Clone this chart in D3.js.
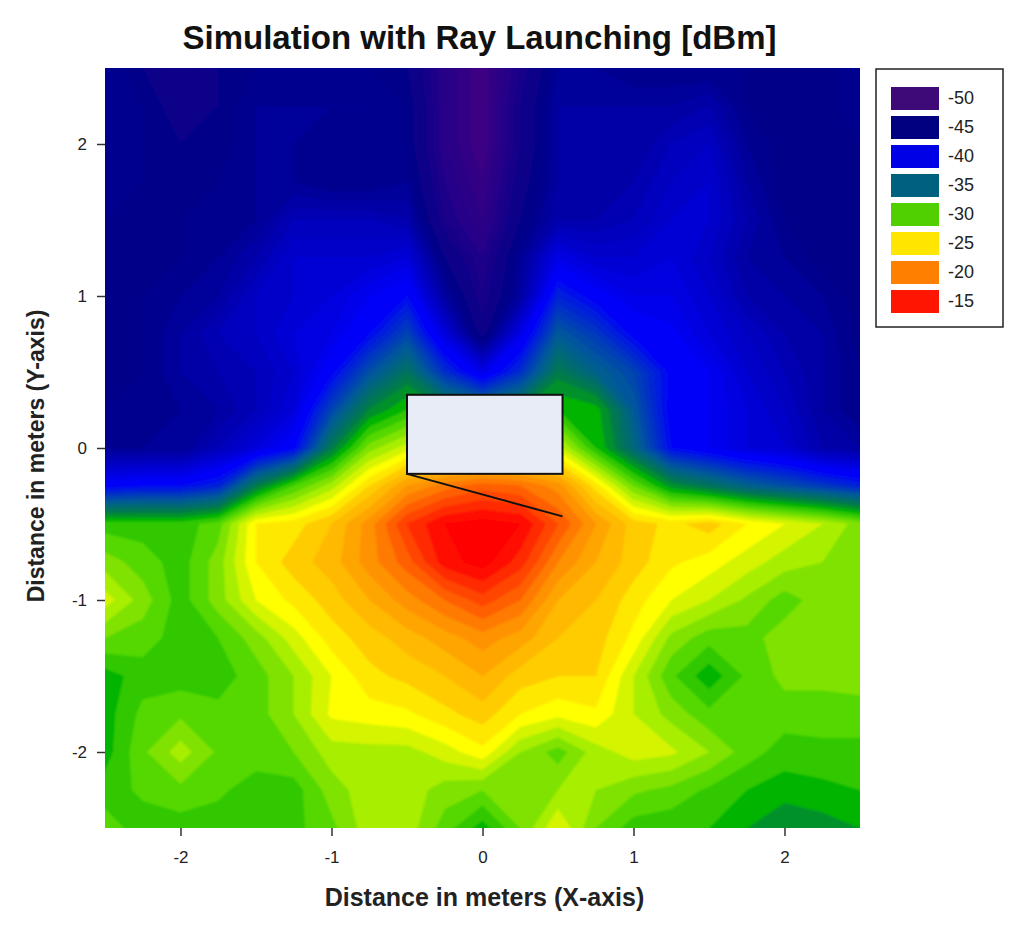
<!DOCTYPE html>
<html><head><meta charset="utf-8">
<script src="https://cdn.jsdelivr.net/npm/d3@7"></script>
<style>html,body{margin:0;padding:0;background:#fff}svg{display:block}text{font-family:"Liberation Sans",Arial,sans-serif}</style>
</head><body><div id="c"></div>
<script>
const titleText = "Simulation with Ray Launching [dBm]";
const xLabelText = "Distance in meters (X-axis)";
const yLabelText = "Distance in meters (Y-axis)";
const xColumns = [-2.5,-2.25,-2,-1.75,-1.5,-1.25,-1,-0.75,-0.5,-0.25,0,0.25,0.5,0.75,1,1.25,1.5,1.75,2,2.25,2.5];
const yRows = [2.5,2.25,2,1.75,1.5,1.25,1,0.75,0.5,0.25,0,-0.25,-0.5,-0.75,-1,-1.25,-1.5,-1.75,-2,-2.25,-2.5];
const fieldValues = [
 [-44.5,-45.5,-46.5,-45.5,-45,-45,-45,-45,-45.5,-48,-49.5,-47,-44.5,-44.5,-45,-45,-45,-45,-45.3,-45.3,-44.5],
 [-44.5,-45,-46,-45.5,-44.5,-44.5,-44.5,-44.5,-45,-48,-49.5,-46.5,-44,-44,-44,-44,-43.5,-45,-45.3,-45.3,-44.5],
 [-44.5,-45,-45.5,-45.3,-44.5,-44.5,-45,-45,-45,-48,-49.5,-46.5,-44,-44,-44,-43,-42.5,-44.5,-45.3,-45.3,-45],
 [-45,-45,-45.3,-45,-44.5,-44.5,-45,-45,-44.5,-47.5,-49,-46,-44,-44,-43.5,-42.5,-42,-44,-45.3,-45.3,-45],
 [-45,-45.3,-45,-45,-44.5,-43,-43,-43,-43.5,-47,-48.5,-45.5,-43.5,-43.5,-43,-42,-42,-43.5,-45,-45.3,-45],
 [-45.3,-45.3,-45,-44.5,-43.5,-42,-42,-42,-41.5,-45.5,-47.5,-44.5,-41,-42,-42,-41.5,-42.5,-44,-44.5,-45.3,-45],
 [-45.3,-45,-44.5,-44,-42.5,-42,-41.5,-40.5,-39.5,-44,-47,-44,-38.5,-40,-41,-41,-42,-43.5,-44,-44.5,-45.3],
 [-45.3,-45,-44,-43,-42.5,-41.5,-41,-39.5,-37,-41.5,-46,-41,-36,-37.5,-39.8,-40.3,-41.5,-42.5,-43.5,-44,-45.3],
 [-45.3,-45,-44,-43.5,-43,-42,-39.8,-36.5,-34,-38,-41,-38,-33.5,-35.5,-37,-39.8,-40.5,-42,-43,-44,-45],
 [-45,-45,-44.5,-44,-43,-41.5,-37,-33,-31,-33,-34,-33,-31,-31.5,-36,-40,-40.5,-41.5,-42.5,-44,-45],
 [-44.5,-44.5,-44.5,-43,-41.5,-39.8,-33.5,-28.5,-26.5,-26,-26,-26,-26.5,-31,-35,-39.5,-40.5,-41.5,-42,-43.5,-44],
 [-40,-39.5,-39.5,-38.5,-33.5,-30,-27.5,-24,-21,-19.5,-18.5,-19,-20.5,-24.5,-29,-32.5,-34,-35.5,-36.5,-37.5,-38.5],
 [-30.5,-30.5,-30.5,-29.5,-25,-24.5,-23,-20.5,-17,-15,-14.5,-15,-18,-21,-23.5,-24.3,-23.5,-25,-26,-27,-28.5],
 [-28.5,-29.5,-30.5,-28.5,-25,-23.5,-22.5,-20.5,-18.5,-15.5,-14.5,-16.5,-20,-22,-23.5,-24.8,-25.5,-26.5,-27.5,-28,-28.5],
 [-26.5,-28.5,-30.5,-28.5,-26,-24.7,-23.5,-22,-20.5,-19,-17.5,-19,-22,-23,-24.5,-26,-27,-28.2,-29.5,-28.5,-28.5],
 [-29,-29.5,-30.5,-30,-28.5,-26.5,-24.5,-23.5,-22.5,-21.5,-20.5,-21.5,-23,-23.5,-25.3,-28.3,-29.6,-29.4,-28.5,-28.5,-28.5],
 [-31.5,-30.5,-30.5,-30.5,-29.5,-28,-26,-24.3,-23.7,-23,-22,-23.5,-24,-24,-27,-29.8,-31.7,-29.8,-28.7,-28.7,-28.5],
 [-31.5,-29.7,-29.2,-29.7,-29.5,-28,-25.8,-25.5,-25.2,-24.3,-23.5,-25,-25.7,-25.2,-27,-28.4,-29.7,-29.4,-29.5,-29.5,-29.5],
 [-31.5,-29.2,-27.5,-29.2,-29.5,-29,-27.5,-27.4,-27.4,-26.5,-25.3,-28,-29.5,-27.5,-26.5,-26.8,-28,-29.5,-30.5,-30.3,-30.3],
 [-30.5,-29.8,-29.3,-29.8,-30.5,-30.5,-28.5,-27.4,-27.4,-28.5,-29,-28.3,-28,-28,-28.8,-29.3,-30.2,-31,-31.5,-31.3,-31],
 [-29.5,-30.5,-30.5,-30.5,-30.5,-30.3,-29.3,-27.4,-27.4,-29.5,-31.5,-29,-26,-29,-30.5,-30.7,-31,-32,-33,-32.5,-32]
];
const legendLevels = [-50,-45,-40,-35,-30,-25,-20,-15];
const legendColors = ["#3d0a78","#000080","#0000e6","#00607f","#50d000","#ffe600","#ff8000","#ff1500"];
const rampStops = [-52,-50,-47,-45,-40,-36,-33,-31.5,-30.5,-29.5,-28.5,-27.5,-26.5,-25.5,-24.5,-23.5,-20,-15,-13];
const rampColors = ["#4a0080","#450080","#1a008a","#000088","#0000ff","#005a98","#008040","#00b400","#30c800","#55d800","#80e200","#a8ee00","#d4f400","#ffff00","#ffe800","#ffcc00","#ff8800","#ff0000","#ff0000"];
const bodyRect = {x0:-0.5,x1:0.53,y0:0.35,y1:-0.17};
const wireX = [-0.5,0.53];
const wireY = [-0.17,-0.45];
const xTicks = [-2,-1,0,1,2];
const yTicks = [-2,-1,0,1,2];

const W=1024,H=928,L=105,R=860,T=68,B=828;
const svg=d3.select("#c").append("svg").attr("width",W).attr("height",H);
const x=d3.scaleLinear().domain([-2.5,2.5]).range([L,R]);
const y=d3.scaleLinear().domain([2.5,-2.5]).range([T,B]);
const color=d3.scaleLinear().domain(rampStops).range(rampColors);
const defs=svg.append("defs");
defs.append("clipPath").attr("id","pc").append("rect").attr("x",L).attr("y",T).attr("width",R-L).attr("height",B-T);
const fb=defs.append("filter").attr("id","soft").attr("x","-2%").attr("y","-2%").attr("width","104%").attr("height","104%");
fb.append("feGaussianBlur").attr("stdDeviation",0.8);

const nx=xColumns.length,ny=yRows.length;
const flat=fieldValues.flat();
const thresholds=d3.range(-52,-33,0.5).concat(d3.range(-33,-13,1));
const nextT=t=>{const i=thresholds.indexOf(t);return i<thresholds.length-1?thresholds[i+1]:t+1;};
const contours=d3.contours().size([nx,ny]).smooth(true).thresholds(thresholds)(flat);
const gx=d3.scaleLinear().domain(xColumns.map((_,i)=>i+0.5)).range(xColumns);
const gy=d3.scaleLinear().domain(yRows.map((_,i)=>i+0.5)).range(yRows);
const path=d3.geoPath(d3.geoTransform({point(a,b){this.stream.point(x(gx(a)),y(gy(b)));}}));
const plot=svg.append("g").attr("clip-path","url(#pc)");
const field=plot.append("g").attr("filter","url(#soft)");
field.append("rect").attr("x",L-5).attr("y",T-5).attr("width",R-L+10).attr("height",B-T+10).attr("fill",color(-52));
const band=d=>color((d.value+nextT(d.value))/2);
field.selectAll("path").data(contours).join("path").attr("d",path)
 .attr("fill",band).attr("stroke",band).attr("stroke-width",0.5);

svg.append("rect").attr("x",x(bodyRect.x0)).attr("y",y(bodyRect.y0))
 .attr("width",x(bodyRect.x1)-x(bodyRect.x0)).attr("height",y(bodyRect.y1)-y(bodyRect.y0))
 .attr("fill","#e8ecf6").attr("stroke","#111").attr("stroke-width",2);
svg.append("path").attr("d",d3.line().x(d=>x(d[0])).y(d=>y(d[1]))(d3.zip(wireX,wireY)))
 .attr("fill","none").attr("stroke","#111").attr("stroke-width",2);

const ax=svg.append("g").attr("transform",`translate(0,${B})`).call(d3.axisBottom(x).tickValues(xTicks).tickSize(8).tickPadding(15).tickFormat(d=>String(d)));
const ay=svg.append("g").attr("transform",`translate(${L},0)`).call(d3.axisLeft(y).tickValues(yTicks).tickSize(8).tickPadding(10).tickFormat(d=>String(d)));
[ax,ay].forEach(a=>{a.select(".domain").remove();a.selectAll("line").attr("stroke","#333").attr("stroke-width",1.5);
 a.selectAll("text").attr("font-size",17).attr("fill","#222").style("font-family",'"Liberation Sans",Arial,sans-serif');});

svg.append("text").attr("x",479.5).attr("y",49).attr("text-anchor","middle").attr("font-size",33).attr("font-weight","bold").attr("fill","#111").text(titleText);
svg.append("text").attr("x",484.5).attr("y",906).attr("text-anchor","middle").attr("font-size",25).attr("font-weight","bold").attr("fill","#222").text(xLabelText);
svg.append("text").attr("transform","translate(44,456) rotate(-90)").attr("text-anchor","middle").attr("font-size",23).attr("font-weight","bold").attr("fill","#222").text(yLabelText);

const lg=svg.append("g");
lg.append("rect").attr("x",876).attr("y",69).attr("width",127).attr("height",258).attr("fill","#fff").attr("stroke","#222").attr("stroke-width",1.5);
const ls=d3.scaleBand().domain(legendLevels).range([84,316]);
const li=lg.selectAll("g").data(legendLevels).join("g").attr("transform",d=>`translate(0,${ls(d)})`);
li.append("rect").attr("x",891).attr("y",3).attr("width",48).attr("height",23).attr("fill",(d,i)=>legendColors[i]);
li.append("text").attr("x",948).attr("y",20).attr("font-size",18).attr("fill","#222").text(d=>d);
</script></body></html>
